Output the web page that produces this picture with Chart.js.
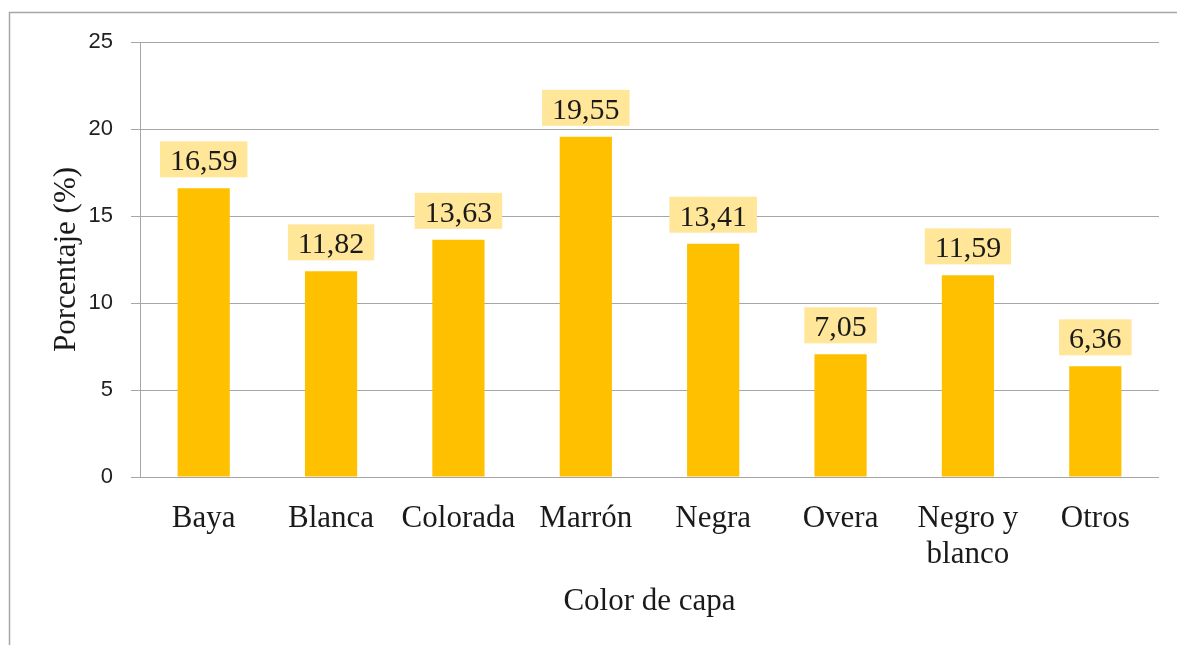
<!DOCTYPE html>
<html>
<head>
<meta charset="utf-8">
<script src="https://cdn.jsdelivr.net/npm/chart.js@4.4.1/dist/chart.umd.min.js"></script>
<style>
  html, body { margin: 0; padding: 0; background: #fff; overflow: hidden; }
  #wrap { position: relative; width: 1177px; height: 645px; }
</style>
</head>
<body>
<div id="wrap"><canvas id="myChart"></canvas></div>
<script>
// chart values
var categories = ['Baya', 'Blanca', 'Colorada', 'Marrón', 'Negra', 'Overa', ['Negro y', 'blanco'], 'Otros'];
var porcentaje = [16.59, 11.82, 13.63, 19.55, 13.41, 7.05, 11.59, 6.36];
var yTicks = [0, 5, 10, 15, 20, 25];

var serif = '"Liberation Serif", "Times New Roman", serif';

// labels with the pale yellow box above each bar
var labelBoxes = {
    id: 'labelBoxes',
    afterDatasetsDraw: function (chart) {
        var ctx = chart.ctx;
        var meta = chart.getDatasetMeta(0);
        ctx.save();
        ctx.font = '30px ' + serif;
        ctx.textAlign = 'center';
        ctx.textBaseline = 'alphabetic';
        meta.data.forEach(function (bar, i) {
            var txt = porcentaje[i].toFixed(2).replace('.', ',');
            var w = ctx.measureText(txt).width + 20;
            var h = 36;
            var bottom = bar.y - 11;
            ctx.fillStyle = '#FFE699';
            ctx.fillRect(bar.x - w / 2, bottom - h, w, h);
            ctx.fillStyle = '#1a1a1a';
            ctx.fillText(txt, bar.x, bottom - 7);
        });
        ctx.restore();
    }
};

// the grey frame of the chart object
var frame = {
    id: 'frame',
    afterDraw: function (chart) {
        var ctx = chart.ctx;
        ctx.save();
        ctx.strokeStyle = '#a6a6a6';
        ctx.lineWidth = 1.5;
        ctx.beginPath();
        ctx.moveTo(9.5, chart.height);
        ctx.lineTo(9.5, 12.5);
        ctx.lineTo(chart.width, 12.5);
        ctx.stroke();
        ctx.restore();
    }
};

var chart = new Chart(document.getElementById('myChart'), {
    type: 'bar',
    data: {
        labels: categories,
        datasets: [{
            label: 'Porcentaje',
            data: porcentaje,
            backgroundColor: '#FFC000',
            borderWidth: 0,
            barPercentage: 0.41,
            categoryPercentage: 1
        }]
    },
    options: {
        responsive: true,
        maintainAspectRatio: false,
        animation: false,
        layout: { padding: { top: 42, right: 18, bottom: 0, left: 0 } },
        plugins: {
            legend: { display: false },
            tooltip: { enabled: false }
        },
        scales: {
            x: {
                grid: { display: false, drawTicks: false },
                border: { display: false },
                ticks: {
                    color: '#1a1a1a',
                    padding: 24,
                    maxRotation: 0,
                    autoSkip: false,
                    font: { family: serif, size: 31, lineHeight: 36 / 31 }
                },
                title: {
                    display: true,
                    text: 'Color de capa',
                    color: '#1a1a1a',
                    padding: { top: 0, bottom: 25 },
                    font: { family: serif, size: 31, lineHeight: 36 / 31 }
                },
                afterFit: function (scale) { scale.height = 168; }
            },
            y: {
                min: 0,
                max: 25,
                afterBuildTicks: function (scale) {
                    scale.ticks = yTicks.map(function (v) { return { value: v }; });
                },
                grid: { color: '#a6a6a6', lineWidth: 1, tickLength: 9 },
                border: { color: '#a6a6a6', width: 1 },
                ticks: {
                    color: '#1f1f1f',
                    padding: 18,
                    font: { family: '"Liberation Sans", Arial, sans-serif', size: 22 }
                },
                title: {
                    display: true,
                    text: 'Porcentaje (%)',
                    color: '#1a1a1a',
                    padding: { top: 49, bottom: 0 },
                    font: { family: serif, size: 31, lineHeight: 36 / 31 }
                },
                afterFit: function (scale) { scale.width = 140; }
            }
        }
    },
    plugins: [labelBoxes, frame]
});
</script>
</body>
</html>
